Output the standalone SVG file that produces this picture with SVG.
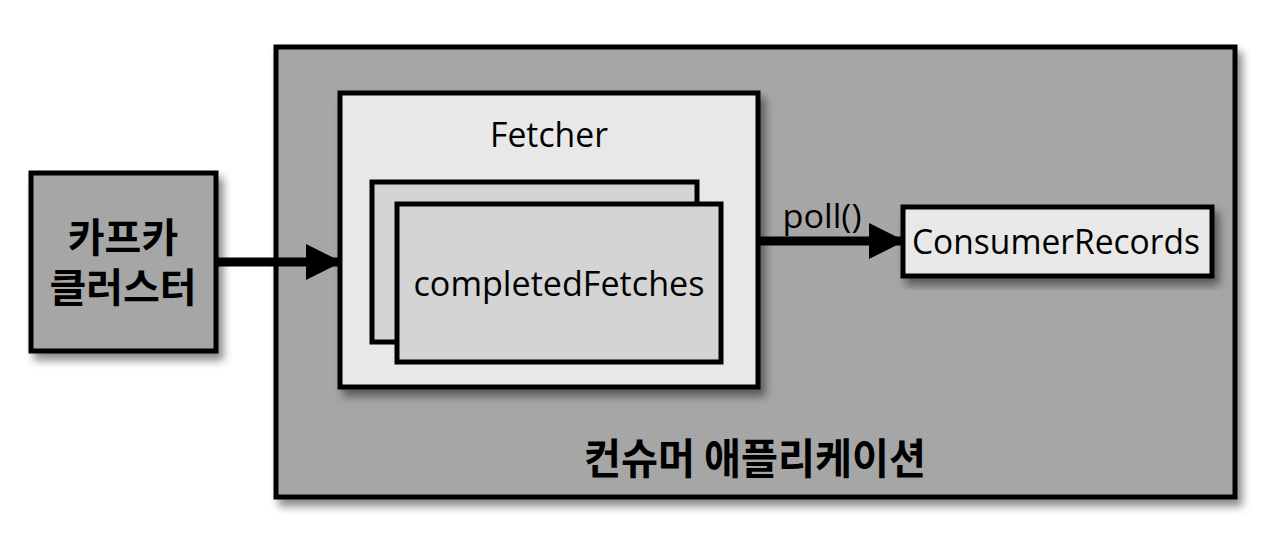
<svg xmlns="http://www.w3.org/2000/svg" width="1280" height="538" viewBox="0 0 1280 538">
<defs>
<filter id="sh" x="-10%" y="-10%" width="130%" height="130%">
<feDropShadow dx="5" dy="7" stdDeviation="4" flood-color="#000" flood-opacity="0.45"/>
</filter>
<marker id="ah" markerWidth="36" markerHeight="36" refX="34" refY="18" markerUnits="userSpaceOnUse" orient="auto">
<path d="M0,0 L36,18 L0,36 Z" fill="#000"/>
</marker>
<style>
.box{stroke:#000;stroke-width:5}
.lat{font-family:"Open Sans","Noto Sans",sans-serif;fill:#000}
.kor{font-family:"Noto Sans CJK KR","Noto Sans",sans-serif;font-weight:bold;fill:#000}
.conn{stroke:#000;stroke-width:9;fill:none}
</style>
</defs>
<rect width="1280" height="538" fill="#fff"/>
<g id="consumer-app">
<rect class="box" x="276" y="47" width="959" height="450" fill="#a6a6a6" filter="url(#sh)"/>
<text class="kor" x="755" y="474" font-size="42" text-anchor="middle" textLength="342" lengthAdjust="spacingAndGlyphs">컨슈머 애플리케이션</text>
</g>
<g id="kafka-cluster">
<rect class="box" x="31" y="173" width="185" height="178" fill="#a6a6a6" filter="url(#sh)"/>
<text class="kor" font-size="40" text-anchor="middle"><tspan x="123" y="252">카프카</tspan><tspan x="123" y="302">클러스터</tspan></text>
</g>
<g id="fetcher">
<rect class="box" x="340" y="93" width="418" height="294" fill="#e8e8e8" filter="url(#sh)"/>
<text class="lat" x="549" y="147" font-size="34" text-anchor="middle" textLength="118" lengthAdjust="spacingAndGlyphs">Fetcher</text>
</g>
<g id="completed-fetches">
<rect class="box" x="372" y="182" width="325" height="160" fill="#d4d4d4"/>
<rect class="box" x="397" y="204" width="324" height="158" fill="#d4d4d4"/>
<text class="lat" x="559" y="296" font-size="35" text-anchor="middle" textLength="291" lengthAdjust="spacingAndGlyphs">completedFetches</text>
</g>
<g id="consumer-records">
<rect class="box" x="903" y="207" width="309" height="69" fill="#e8e8e8" filter="url(#sh)"/>
<text class="lat" x="1056" y="254" font-size="34" text-anchor="middle" textLength="288" lengthAdjust="spacingAndGlyphs">ConsumerRecords</text>
</g>
<g id="connectors">
<line class="conn" x1="218" y1="262" x2="340" y2="262" marker-end="url(#ah)"/>
<line class="conn" x1="760" y1="241" x2="903" y2="241" marker-end="url(#ah)"/>
<text class="lat" x="822" y="228" font-size="33" text-anchor="middle" textLength="79" lengthAdjust="spacingAndGlyphs">poll()</text>
</g>
</svg>
